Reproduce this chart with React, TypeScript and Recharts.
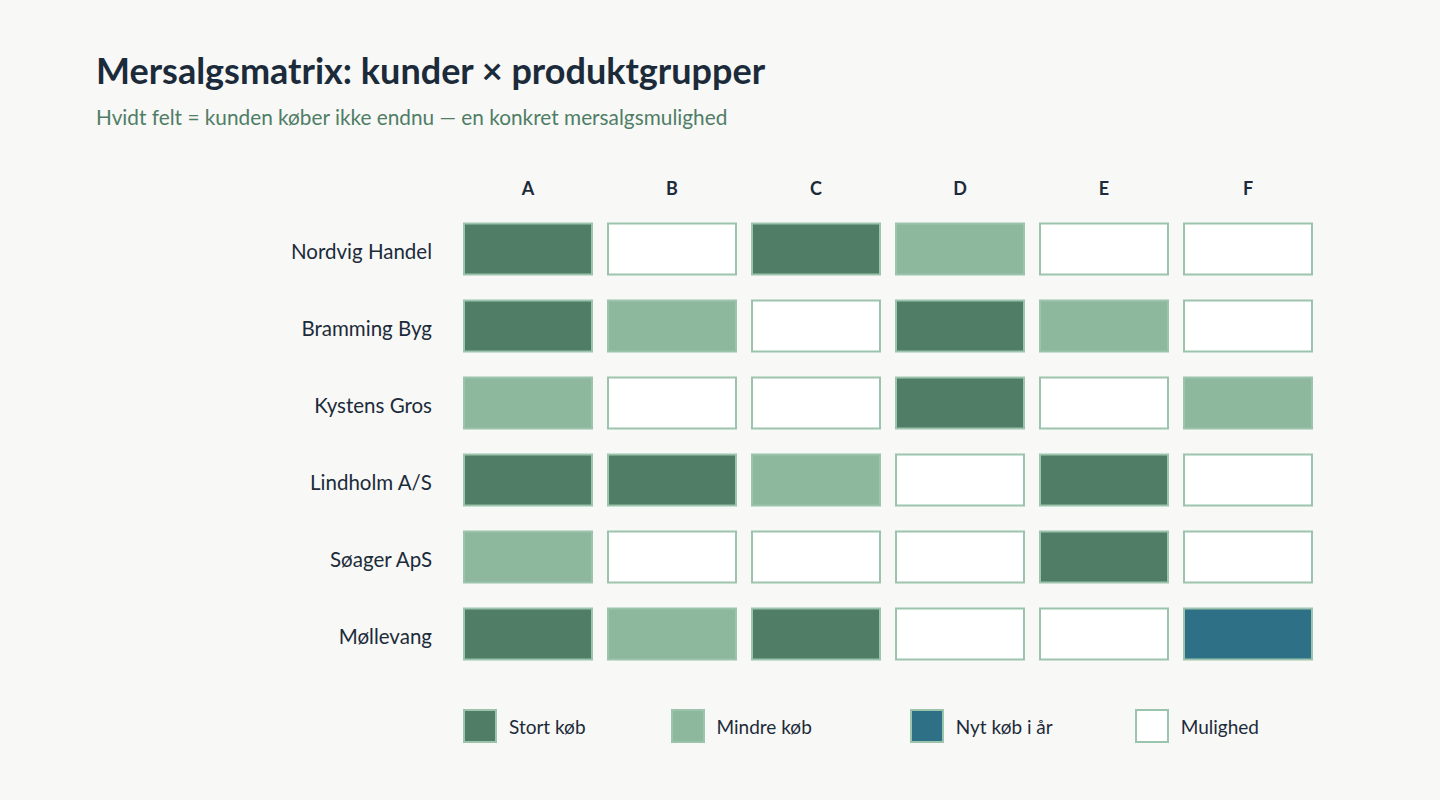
import React from "react";
import { ScatterChart, Scatter, XAxis, YAxis } from "recharts";

const productGroups = ["A", "B", "C", "D", "E", "F"];
const customers = ["Nordvig Handel", "Bramming Byg", "Kystens Gros", "Lindholm A/S", "Søager ApS", "Møllevang"];

// status codes: 2 = Stort køb, 1 = Mindre køb, 3 = Nyt køb i år, 0 = Mulighed
const nordvigHandel = [2, 0, 2, 1, 0, 0];
const brammingByg = [2, 1, 0, 2, 1, 0];
const kystensGros = [1, 0, 0, 2, 0, 1];
const lindholmAS = [2, 2, 1, 0, 2, 0];
const soagerApS = [1, 0, 0, 0, 2, 0];
const mollevang = [2, 1, 2, 0, 0, 3];

const statusLabels = ["Mulighed", "Mindre køb", "Stort køb", "Nyt køb i år"];
const legendOrder = [2, 1, 3, 0];

const COLORS: Record<number, string> = {
  0: "#ffffff",
  1: "#8db89e",
  2: "#4f7d66",
  3: "#2e7187",
};
const STROKE = "#9cc3ac";
const TEXT = "#1c2b3a";
const BG = "#f8f8f6";

const rows = [nordvigHandel, brammingByg, kystensGros, lindholmAS, soagerApS, mollevang];
const data = rows.flatMap((vals, ri) =>
  vals.map((s, ci) => ({ col: productGroups[ci], row: customers[ri], status: s }))
);

const CELL_W = 128;
const CELL_H = 51;

const Cell = (props: any) => {
  const { cx, cy, payload } = props;
  if (cx == null || cy == null) return null;
  return (
    <rect
      x={cx - CELL_W / 2}
      y={cy - CELL_H / 2}
      width={CELL_W}
      height={CELL_H}
      fill={COLORS[payload.status]}
      stroke={STROKE}
      strokeWidth={2}
    />
  );
};

export default function App() {
  return (
    <div
      style={{
        position: "absolute",
        left: 0,
        top: 0,
        width: 1440,
        height: 800,
        background: BG,
        fontFamily: "Lato, 'Noto Sans', sans-serif",
        overflow: "hidden",
      }}
    >
      <div
        style={{
          position: "absolute",
          left: 96,
          top: 48,
          fontSize: 36,
          fontWeight: 700,
          color: TEXT,
          lineHeight: "44px",
          whiteSpace: "nowrap",
        }}
      >
        Mersalgsmatrix: kunder × produktgrupper
      </div>
      <div
        style={{
          position: "absolute",
          left: 96,
          top: 104,
          fontSize: 20.8,
          color: "#4f7d66",
          lineHeight: "26px",
          whiteSpace: "nowrap",
        }}
      >
        Hvidt felt = kunden køber ikke endnu — en konkret mersalgsmulighed
      </div>
      <div style={{ position: "absolute", left: 0, top: 0 }}>
        <ScatterChart
          width={1440}
          height={700}
          margin={{ top: 180.5, right: 120, bottom: 27.5, left: 256 }}
        >
          <XAxis
            type="category"
            dataKey="col"
            orientation="top"
            allowDuplicatedCategory={false}
            axisLine={false}
            tickLine={false}
            tickSize={0}
            tickMargin={16}
            height={30}
            tick={{ fill: TEXT, fontSize: 18, fontWeight: 700 }}
          />
          <YAxis
            type="category"
            dataKey="row"
            reversed
            allowDuplicatedCategory={false}
            axisLine={false}
            tickLine={false}
            tickSize={0}
            tickMargin={24}
            width={200}
            tick={{ fill: TEXT, fontSize: 20.5, dy: 3 }}
          />
          <Scatter data={data} shape={Cell} isAnimationActive={false} />
        </ScatterChart>
      </div>
      <div
        style={{
          position: "absolute",
          left: 463,
          top: 709,
          display: "flex",
          alignItems: "center",
        }}
      >
        {legendOrder.map((s, i) => (
          <div
            key={s}
            style={{
              display: "flex",
              alignItems: "center",
              marginRight: i === 1 ? 98 : i === 2 ? 82 : 85,
            }}
          >
            <div
              style={{
                width: 30,
                height: 30,
                background: COLORS[s],
                border: `2px solid ${STROKE}`,
                boxSizing: "content-box",
              }}
            />
            <span style={{ marginLeft: 12, fontSize: 19, color: TEXT }}>{statusLabels[s]}</span>
          </div>
        ))}
      </div>
    </div>
  );
}
